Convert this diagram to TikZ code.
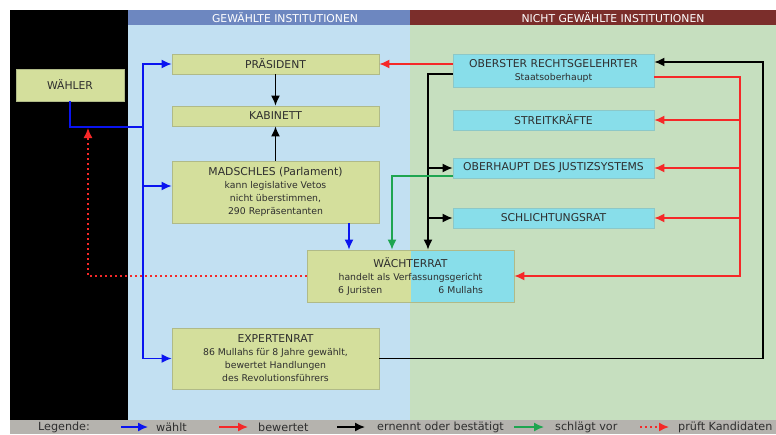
\documentclass[tikz,border=0pt]{standalone}
\usepackage{fontspec}
\setmainfont{DejaVu Sans}
\usetikzlibrary{arrows.meta}
\definecolor{bgblue}{HTML}{C2E0F2}
\definecolor{bggreen}{HTML}{C6DFBF}
\definecolor{hdblue}{HTML}{6D87C0}
\definecolor{hdred}{HTML}{7B2E2B}
\definecolor{legendgray}{HTML}{B5B3AE}
\definecolor{nodey}{HTML}{D4DF9C}
\definecolor{nodec}{HTML}{88DEEA}
\definecolor{bordy}{HTML}{B0BA88}
\definecolor{bordc}{HTML}{8CC8C8}
\definecolor{txt}{HTML}{2E2E2E}
\definecolor{arblue}{HTML}{0A14F0}
\definecolor{arred}{HTML}{F52828}
\definecolor{argreen}{HTML}{1EA550}
\newcommand\capf{\fontsize{10.8}{13}\selectfont}
\newcommand\subf{\fontsize{9.3}{13}\selectfont}
\newcommand\legf{\fontsize{11.2}{13}\selectfont}
\begin{document}
\begin{tikzpicture}[x=1pt,y=-1pt,
  ybox/.style={draw=bordy,line width=0.8pt,fill=nodey,inner sep=0pt,text=txt,font=\subf,align=center},
  cbox/.style={draw=bordc,line width=0.8pt,fill=nodec,inner sep=0pt,text=txt,font=\subf,align=center},
  con/.style={line width=1.5pt,-{Latex[length=10pt,width=9pt]}},
  bl/.style={con,draw=arblue},
  rd/.style={con,draw=arred},
  bk/.style={con,draw=black},
  gr/.style={con,draw=argreen},
  nohead/.style={line width=1.5pt},
  legtext/.style={anchor=west,font=\legf,text=txt,inner sep=0pt},
  hdtext/.style={font=\capf,text=white,inner sep=0pt}]
\useasboundingbox (0,0) rectangle (776,434);
% backgrounds
\fill[white] (0,0) rectangle (776,434);
\fill[black] (10,10) rectangle (128,420);
\fill[bgblue] (128,25) rectangle (410,420);
\fill[bggreen] (410,25) rectangle (776,420);
\fill[hdblue] (128,10) rectangle (410,25);
\fill[hdred] (410,10) rectangle (776,25);
\fill[legendgray] (10,420) rectangle (776,434);
\node[hdtext] (h1) at (285,17.5) {GEWÄHLTE INSTITUTIONEN};
\node[hdtext] (h2) at (613,17.5) {NICHT GEWÄHLTE INSTITUTIONEN};
% nodes
\node[ybox,minimum width=108pt,minimum height=32pt] (waehler) at (70,85) {\capf WÄHLER};
\node[ybox,minimum width=207pt,minimum height=20pt] (praes) at (275.5,64) {\capf PRÄSIDENT};
\node[ybox,minimum width=207pt,minimum height=20pt] (kab) at (275.5,116) {\capf KABINETT};
\node[ybox,minimum width=207pt,minimum height=62pt] (mad) at (275.5,192) {{\capf MADSCHLES (Parlament)}\\kann legislative Vetos\\nicht überstimmen,\\290 Repräsentanten};
\node[ybox,minimum width=207pt,minimum height=61pt] (expert) at (275.5,358.5) {{\capf EXPERTENRAT}\\86 Mullahs für 8 Jahre gewählt,\\bewertet Handlungen\\des Revolutionsführers};
\node[cbox,minimum width=201pt,minimum height=33pt] (ober) at (553.5,70.5) {{\capf OBERSTER RECHTSGELEHRTER}\\Staatsoberhaupt};
\node[cbox,minimum width=201pt,minimum height=20pt] (streit) at (553.5,120) {\capf STREITKRÄFTE};
\node[cbox,minimum width=201pt,minimum height=20pt] (justiz) at (553.5,168) {\capf OBERHAUPT DES JUSTIZSYSTEMS};
\node[cbox,minimum width=201pt,minimum height=20pt] (schlicht) at (553.5,218) {\capf SCHLICHTUNGSRAT};
\node[ybox,fill=none,draw=bordy,minimum width=207pt,minimum height=52pt,text width=145pt,
  path picture={\fill[nodey] (path picture bounding box.south west) rectangle (path picture bounding box.north);
                \fill[nodec] (path picture bounding box.south) rectangle (path picture bounding box.north east);}]
  (waechter) at (410.5,276) {{\capf WÄCHTERRAT}\\handelt als Verfassungsgericht\\6 Juristen\hfill 6 Mullahs};
% helper coordinates
\coordinate (bj) at (143,127);
\coordinate (xm) at (349,0);
\coordinate (kx) at (428,0);
\coordinate (gx) at (392,0);
\coordinate (rx) at (740,0);
\coordinate (ex) at (763,0);
\coordinate (dx) at (88,128);
\coordinate (otop) at ([yshift=8.5pt]ober.east);
\coordinate (olow) at ([yshift=-3.5pt]ober.west);
\coordinate (orgt) at ([yshift=-6.5pt]ober.east);
\coordinate (jlow) at ([yshift=-8pt]justiz.west);
\coordinate (madin) at ([yshift=6pt]mad.west);
% blue
\draw[nohead,arblue] (waehler.south) |- (bj);
\draw[bl] (bj) |- (praes.west);
\draw[bl] (bj) |- (madin);
\draw[bl] (bj) |- (expert.west);
\draw[bl] (mad.south -| xm) -- (waechter.north -| xm);
% black
\draw[bk] (praes.south) -- (kab.north);
\draw[bk] (mad.north) -- (kab.south);
\draw[bk] (olow) -| (waechter.north -| kx);
\draw[bk] (kx |- justiz.west) -- (justiz.west);
\draw[bk] (kx |- schlicht.west) -- (schlicht.west);
\draw[bk] (expert.east) -| (otop -| ex) -- (otop);
% green
\draw[gr] (jlow) -| (waechter.north -| gx);
% red
\draw[rd] (praes.east -| ober.west) -- (praes.east);
\draw[rd] (orgt) -| (rx |- waechter.east) -- (waechter.east);
\draw[rd] (rx |- streit.east) -- (streit.east);
\draw[rd] (rx |- justiz.east) -- (justiz.east);
\draw[rd] (rx |- schlicht.east) -- (schlicht.east);
\draw[rd,dash pattern=on 2pt off 3pt] (waechter.west) -| (dx);
% legend
\node[font=\legf,text=txt,inner sep=0pt] (leg) at (64,427) {Legende:};
\coordinate (l1a) at (121,427); \coordinate (l1b) at (148,427);
\coordinate (l2a) at (219,427); \coordinate (l2b) at (248,427);
\coordinate (l3a) at (337,427); \coordinate (l3b) at (365,427);
\coordinate (l4a) at (514,427); \coordinate (l4b) at (544,427);
\coordinate (l5a) at (640,427); \coordinate (l5b) at (669,427);
\draw[bl] (l1a) -- (l1b);
\node[legtext] (t1) at (156,427) {wählt};
\draw[rd] (l2a) -- (l2b);
\node[legtext] (t2) at (258,427) {bewertet};
\draw[bk] (l3a) -- (l3b);
\node[legtext] (t3) at (377,427) {ernennt oder bestätigt};
\draw[gr] (l4a) -- (l4b);
\node[legtext] (t4) at (555,427) {schlägt vor};
\draw[rd,dash pattern=on 2pt off 3pt] (l5a) -- (l5b);
\node[legtext] (t5) at (678,427) {prüft Kandidaten};
\end{tikzpicture}
\end{document}
